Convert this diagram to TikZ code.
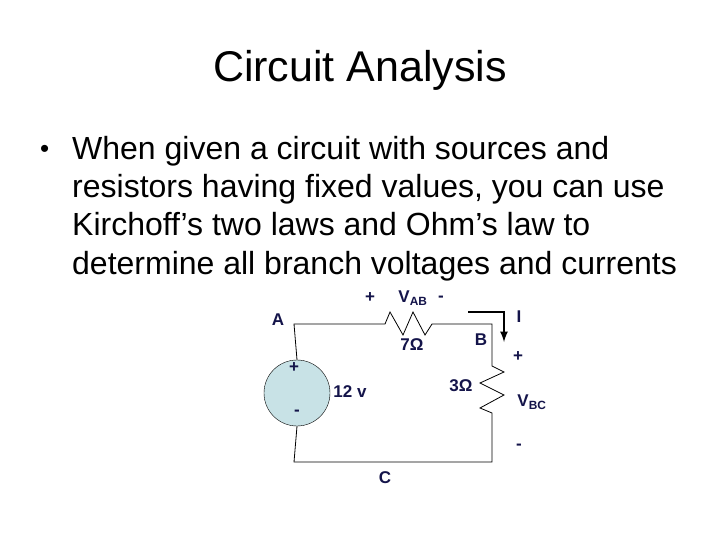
\documentclass[tikz,border=0pt]{standalone}
\usepackage{fontspec}
\setmainfont{Liberation Sans}
\begin{document}
\begin{tikzpicture}[x=1pt,y=-1pt,
  lbl/.style={text=navy,font=\bfseries\fontsize{17}{17}\selectfont,inner sep=0pt},
  body/.style={anchor=base west,inner sep=0pt,font=\fontsize{32}{32}\selectfont},
  wire/.style={line width=0.8pt}]
\definecolor{navy}{HTML}{14144A}
\definecolor{srcfill}{HTML}{C8E2E6}
\useasboundingbox (0,0) rectangle (720,540);
\fill[white] (0,0) rectangle (720,540);
\node (title) at (360,70) {\fontsize{43}{43}\selectfont Circuit Analysis};
\node[anchor=base west,inner sep=0pt,font=\fontsize{26}{26}\selectfont] (b0) at (40,158) {•};
\node[body] (b1) at (72,160) {When given a circuit with sources and};
\node[body] (b2) at (72,198) {resistors having fixed values, you can use};
\node[body] (b3) at (72,236) {Kirchoff’s two laws and Ohm’s law to};
\node[body] (b4) at (72,274) {determine all branch voltages and currents};
% circuit
\coordinate (A) at (294,324);
\coordinate (R1a) at (385,324);
\coordinate (R1b) at (432,324);
\coordinate (B) at (492,324);
\coordinate (R2a) at (492,366);
\coordinate (R2b) at (492,413);
\coordinate (Cr) at (492,462);
\coordinate (Cl) at (294,462);
\node[circle,draw,fill=srcfill,minimum size=66pt,inner sep=0pt] (src) at (297,393) {};
\draw[wire] (src.north) -- (A) -- (R1a) -- (390,312) -- (403,335) -- (413,312) -- (425,335) -- (R1b) -- (B) -- (R2a)
  -- (504,372) -- (480,383) -- (504,395) -- (480,408) -- (R2b) -- (Cr) -- (Cl) -- (src.south);
\coordinate (arS) at (468,312);
\coordinate (arC) at (504,312);
\coordinate (arE) at (504,342);
\draw[line width=2.5pt,-{latex}] (arS) -- (arC) -- (arE);
\node[lbl] (lA) at (278,320) {A};
\node[lbl] (lp1) at (370,298) {+};
\node[lbl] (lvab) at (413,298) {V\textsubscript{AB}};
\node[lbl] (lm1) at (441,299) {-};
\node[lbl] (l7) at (412,345) {7Ω};
\node[lbl] (lB) at (481,340) {B};
\node[lbl] (lI) at (519,317) {I};
\node[lbl] (lp2) at (518,357) {+};
\node[lbl] (l3) at (461,386) {3Ω};
\node[lbl] (l12) at (350,392) {12 v};
\node[lbl] (lvbc) at (532,402) {V\textsubscript{BC}};
\node[lbl] (lm2) at (519,447) {-};
\node[lbl] (lC) at (385,478) {C};
\node[lbl] (sp) at (294,368) {+};
\node[lbl] (sm) at (297,413) {-};
\end{tikzpicture}
\end{document}
